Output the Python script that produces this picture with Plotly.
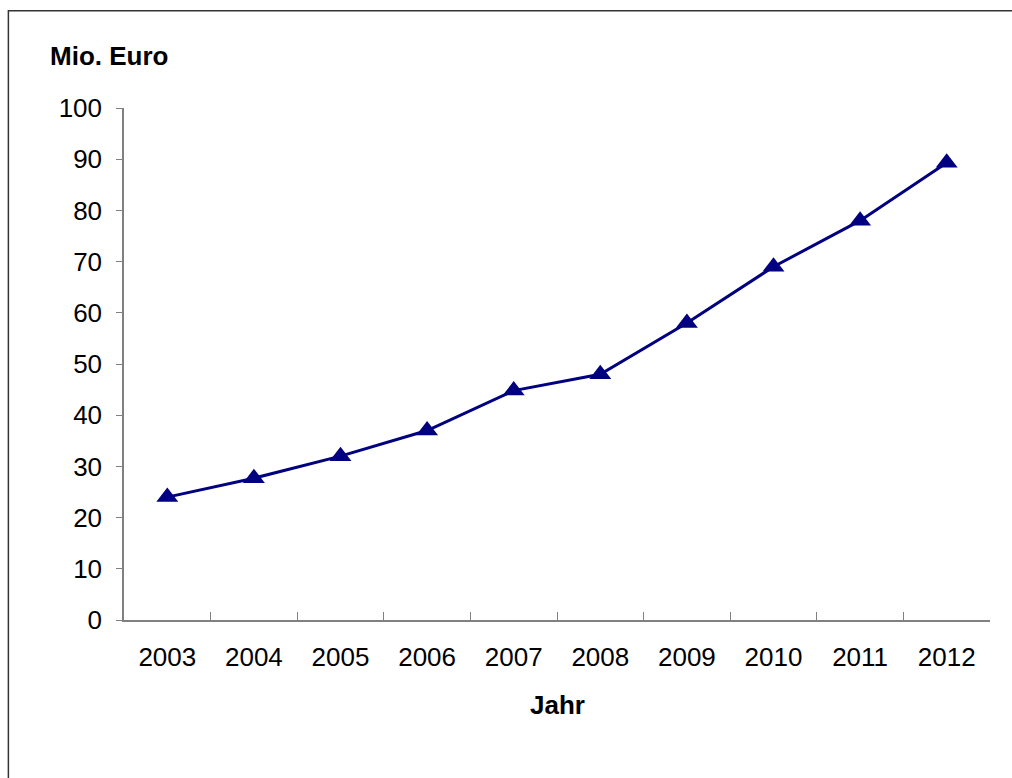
import plotly.graph_objects as go

years = ["2003", "2004", "2005", "2006", "2007", "2008", "2009", "2010", "2011", "2012"]
values = [24.0, 27.7, 32.0, 37.0, 44.8, 48.0, 58.0, 69.0, 78.0, 89.3]
y_ticks = [0, 10, 20, 30, 40, 50, 60, 70, 80, 90, 100]

FONT = "Liberation Sans, Arial, sans-serif"
NAVY = "#000080"
AXIS = "#808080"
FS = 26

fig = go.Figure()
fig.add_trace(go.Scatter(
    x=years, y=values, mode="lines+markers",
    line=dict(color=NAVY, width=3),
    marker=dict(symbol="triangle-up", size=19, color=NAVY),
    showlegend=False, cliponaxis=False,
))

fig.update_layout(
    width=1012, height=778,
    margin=dict(l=124, r=22, t=108, b=158),
    paper_bgcolor="white", plot_bgcolor="white",
    font=dict(family=FONT, size=FS, color="black"),
    xaxis=dict(
        type="category", range=[-0.5, 9.5],
        showline=True, linecolor=AXIS, linewidth=1.5,
        ticks="inside", ticklen=8, tickcolor=AXIS, tickwidth=1,
        tickson="boundaries", showgrid=False, zeroline=False,
        ticklabelstandoff=13,
        tickfont=dict(family=FONT, size=FS),
    ),
    yaxis=dict(
        range=[0, 100], tickvals=y_ticks,
        showline=True, linecolor=AXIS, linewidth=1.5,
        ticks="outside", ticklen=6, tickcolor=AXIS, tickwidth=1,
        showgrid=False, zeroline=False,
        ticklabelstandoff=9,
        tickfont=dict(family=FONT, size=FS),
    ),
    shapes=[dict(type="rect", xref="paper", yref="paper",
                 x0=-0.1335, x1=1.5, y0=-1.0, y1=1.19,
                 line=dict(color="#333333", width=1.5), layer="below")],
    annotations=[
        dict(text="<b>Mio. Euro</b>", xref="paper", yref="paper",
             x=-0.0875, y=1.102, xanchor="left", yanchor="middle",
             showarrow=False, font=dict(family=FONT, size=FS)),
        dict(text="<b>Jahr</b>", xref="paper", yref="paper",
             x=0.5, y=-0.166, xanchor="center", yanchor="middle",
             showarrow=False, font=dict(family=FONT, size=FS)),
    ],
)

fig.write_html("out.html")
